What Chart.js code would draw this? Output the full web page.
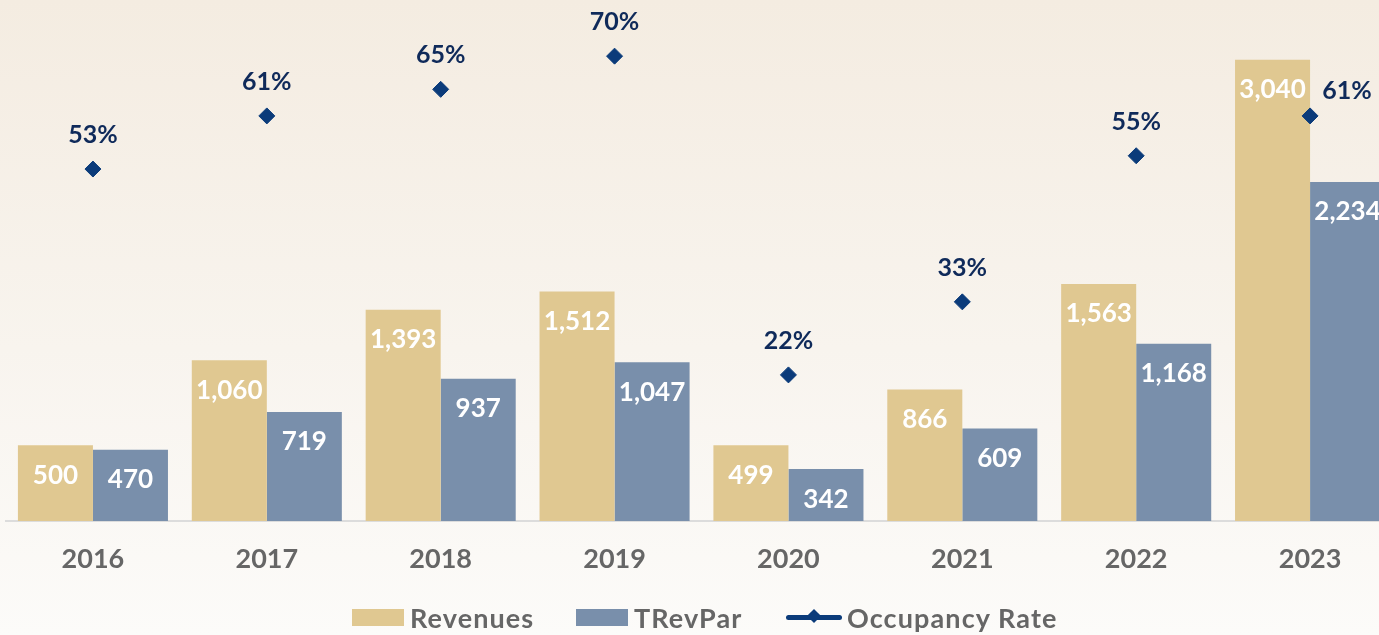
<!DOCTYPE html>
<html>
<head>
<meta charset="utf-8">
<script src="https://cdn.jsdelivr.net/npm/chart.js@4.4.1/dist/chart.umd.min.js"></script>
<style>
  html, body { margin: 0; padding: 0; width: 1379px; height: 635px; overflow: hidden; }
  body { background: linear-gradient(to bottom, #F4ECE1 0%, #F8F4EE 55%, #FCFBF9 100%); font-family: Lato, "Open Sans", sans-serif; }
  #wrap { position: absolute; left: -3px; top: 0; width: 1409px; height: 635px; }
  .item { position: absolute; top: 602px; height: 30px; display: flex; align-items: center; font-weight: 700; font-size: 27px; letter-spacing: 1.1px; color: #666; white-space: nowrap; }
  .box { width: 52px; height: 17px; margin-right: 6px; }
  .lineKey { position: relative; width: 56px; height: 5px; background: #0B3B7A; margin-right: 5px; border-radius: 3px; }
  .lineKey::after { content: ''; position: absolute; left: 23px; top: -4px; width: 10px; height: 10px; background: #0B3B7A; transform: rotate(45deg); }
</style>
</head>
<body>
<div id="wrap"><canvas id="chart" width="1409" height="635"></canvas></div>
<div class="item" style="left:352px"><span class="box" style="background:#E0C891"></span>Revenues</div>
<div class="item" style="left:576px"><span class="box" style="background:#798FAB"></span>TRevPar</div>
<div class="item" style="left:786px"><span class="lineKey"></span>Occupancy Rate</div>
<script>
// categories and series
const years = ['2016', '2017', '2018', '2019', '2020', '2021', '2022', '2023'];
const revenues = [500, 1060, 1393, 1512, 499, 866, 1563, 3040];
const trevpar = [470, 719, 937, 1047, 342, 609, 1168, 2234];
const occupancy = [53, 61, 65, 70, 22, 33, 55, 61];

const REV_COLOR = '#E0C891';
const TREV_COLOR = '#798FAB';
const OCC_COLOR = '#0B3B7A';

// value labels inside bars and above diamonds
const valueLabels = {
  id: 'valueLabels',
  afterDatasetsDraw(chart) {
    const ctx = chart.ctx;
    ctx.save();
    ctx.textAlign = 'center';
    ctx.textBaseline = 'middle';
    chart.data.datasets.forEach((ds, i) => {
      const meta = chart.getDatasetMeta(i);
      meta.data.forEach((el, j) => {
        const v = ds.data[j];
        if (ds.type === 'bar') {
          ctx.font = 'bold 26px Lato, "Open Sans", sans-serif';
          ctx.fillStyle = '#ffffff';
          ctx.fillText(v.toLocaleString('en-US'), el.x, el.y + 30);
        } else {
          ctx.font = 'bold 25px Lato, "Open Sans", sans-serif';
          ctx.fillStyle = '#0F2A5A';
          // last point sits on the tall 2023 bar, so its label moves to the right
          const last = j === ds.data.length - 1;
          ctx.fillText(v + '%', el.x + (last ? 37 : 0), el.y - (last ? 25 : 34));
        }
      });
    });
    ctx.restore();
  }
};

const ctx = document.getElementById('chart').getContext('2d');
new Chart(ctx, {
  data: {
    labels: years,
    datasets: [
      {
        type: 'line',
        label: 'Occupancy Rate',
        data: occupancy,
        yAxisID: 'y1',
        showLine: false,
        pointStyle: 'rectRot',
        pointRadius: 8,
        pointBackgroundColor: OCC_COLOR,
        pointBorderColor: OCC_COLOR,
        borderColor: OCC_COLOR,
        order: 0
      },
      {
        type: 'bar',
        label: 'Revenues',
        data: revenues,
        backgroundColor: REV_COLOR,
        yAxisID: 'y',
        categoryPercentage: 0.863,
        barPercentage: 1.0,
        order: 1
      },
      {
        type: 'bar',
        label: 'TRevPar',
        data: trevpar,
        backgroundColor: TREV_COLOR,
        yAxisID: 'y',
        categoryPercentage: 0.863,
        barPercentage: 1.0,
        order: 1
      }
    ]
  },
  options: {
    responsive: false,
    animation: false,
    layout: { padding: { left: 2, right: 4, top: 4, bottom: 0 } },
    plugins: {
      legend: { display: false },
      tooltip: { enabled: false }
    },
    scales: {
      x: {
        grid: { display: false, drawTicks: false },
        border: { display: true, color: '#DCDCDC', width: 2 },
        ticks: {
          color: '#666666',
          padding: 22,
          font: { family: 'Lato, "Open Sans", sans-serif', size: 27, weight: 'bold' }
        },
        afterFit(scale) { scale.height = 114; }
      },
      y: {
        display: false,
        min: 0,
        max: 3375
      },
      y1: {
        display: false,
        min: 0,
        max: 77.1
      }
    }
  },
  plugins: [valueLabels]
});
</script>
</body>
</html>
